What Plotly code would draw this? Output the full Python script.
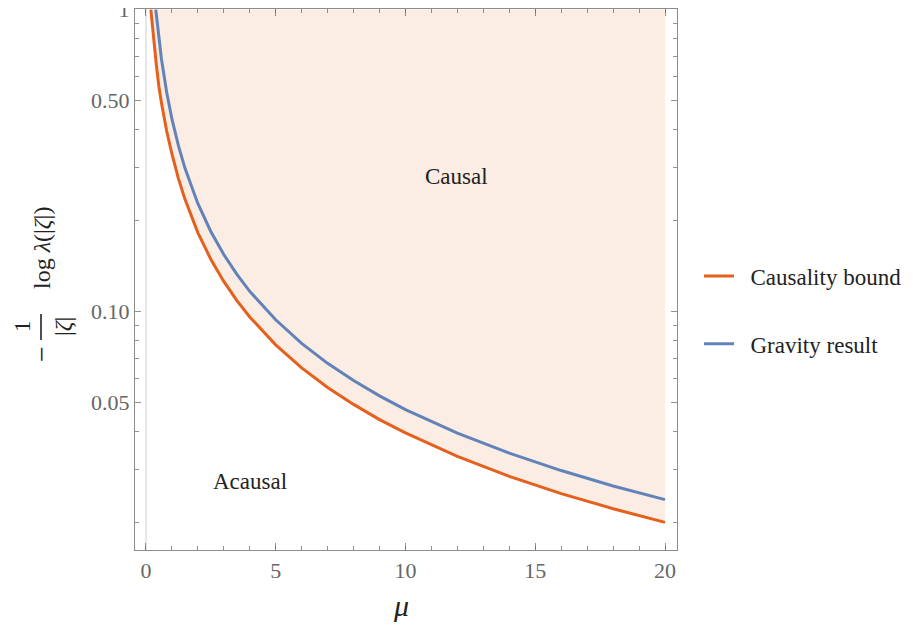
import plotly.graph_objects as go
import math

# Causality bound (orange)
mu_causal = [0.19, 0.25, 0.3, 0.4, 0.5, 0.6, 0.8, 1.0, 1.25, 1.5, 2, 2.5, 3, 3.5, 4,
             5, 6, 7, 8, 9, 10, 12, 14, 16, 18, 20]
val_causal = [1.0, 0.871, 0.786, 0.658, 0.556, 0.490, 0.396, 0.333, 0.276, 0.236, 0.1825,
              0.1489, 0.1257, 0.1088, 0.0959, 0.0775, 0.0650, 0.0560, 0.0492, 0.0438,
              0.0396, 0.0331, 0.0284, 0.0249, 0.0222, 0.0200]

# Gravity result (blue)
mu_grav = [0.38, 0.45, 0.5, 0.6, 0.8, 1.0, 1.25, 1.5, 2, 2.5, 3, 3.5, 4,
           5, 6, 7, 8, 9, 10, 12, 14, 16, 18, 20]
val_grav = [1.0, 0.872, 0.799, 0.685, 0.532, 0.435, 0.355, 0.299, 0.228, 0.184, 0.1543,
            0.1329, 0.1166, 0.0938, 0.0784, 0.0673, 0.0590, 0.0525, 0.0473, 0.0395,
            0.0339, 0.0297, 0.0264, 0.0238]

y_tickvals = [0.05, 0.1, 0.5, 1]
y_ticktext = ["0.05", "0.10", "0.50", "1"]
y_minor = [0.02, 0.03, 0.04, 0.06, 0.07, 0.08, 0.09, 0.2, 0.3, 0.4, 0.6, 0.7, 0.8, 0.9]
x_tickvals = [0, 5, 10, 15, 20]
series_names = ["Causality bound", "Gravity result"]

ORANGE = "#E4601C"
BLUE = "#6283BA"
FILL = "rgb(251,236,228)"
FONT = "Liberation Serif"

# page has an 8px body margin; work in screen pixels and convert
OFF = 8
W, H = 913 - 2 * OFF, 630 - 2 * OFF
L, R, T, B = 135, 677, 9, 550   # plot area in screen pixels


def px(xs):
    return (xs - L) / (R - L)


def py(ys):
    return (B - ys) / (B - T)


fig = go.Figure()

# shaded causal region (above the causality bound up to top of axis)
fig.add_trace(go.Scatter(
    x=mu_causal + [mu_causal[-1], mu_causal[0]],
    y=val_causal + [y_tickvals[-1], y_tickvals[-1]],
    fill="toself", fillcolor=FILL, line=dict(width=0), mode="lines",
    showlegend=False, hoverinfo="skip"))

fig.add_trace(go.Scatter(x=mu_causal, y=val_causal, mode="lines",
                         line=dict(color=ORANGE, width=3),
                         name="\u2002" + series_names[0], legendgroup="a"))
fig.add_trace(go.Scatter(x=mu_grav, y=val_grav, mode="lines",
                         line=dict(color=BLUE, width=3),
                         name="\u2002" + series_names[1], legendgroup="b"))

axis_common = dict(
    showline=True, linecolor="#8c8c8c", linewidth=1.3, mirror="allticks",
    ticks="inside", tickcolor="rgba(110,110,110,0.75)", tickwidth=1.2,
    showgrid=False, automargin=False, ticklabeloverflow="allow",
    tickfont=dict(family=FONT, size=22, color="#666666"),
)

fig.update_layout(
    width=W, height=H,
    margin=dict(l=L - OFF, r=W - (R - OFF), t=T - OFF, b=H - (B - OFF), pad=0,
                autoexpand=False),
    paper_bgcolor="white", plot_bgcolor="white",
    xaxis=dict(range=[-0.42, 20.46], tickvals=x_tickvals, ticklen=7,
               zeroline=True, zerolinecolor="#e6e6e6", zerolinewidth=1.5,
               minor=dict(ticks="inside", ticklen=4, dtick=1, tick0=0,
                          tickcolor="rgba(110,110,110,0.75)", tickwidth=1.2),
               **axis_common),
    yaxis=dict(type="log", range=[math.log10(0.0162), 0.002],
               tickvals=y_tickvals, ticktext=y_ticktext, ticklen=6,
               minor=dict(ticks="inside", ticklen=4, tickvals=y_minor,
                          tickcolor="rgba(110,110,110,0.75)", tickwidth=1.2),
               **axis_common),
    legend=dict(xref="container", yref="container",
                x=(699 - OFF) / W, y=1 - (310 - OFF) / H,
                xanchor="left", yanchor="middle",
                font=dict(family=FONT, size=23, color="#222222"),
                tracegroupgap=35, traceorder="grouped",
                bgcolor="rgba(0,0,0,0)"),
    showlegend=True,
)

ann = []


def add(x, y, text, size, angle=0, ref="paper"):
    ann.append(dict(x=x, y=y, xref=ref if ref == "paper" else "x",
                    yref=ref if ref == "paper" else "y", text=text,
                    textangle=angle, showarrow=False,
                    xanchor="center", yanchor="middle",
                    font=dict(family=FONT, size=size, color="#222")))


# region labels
add(11.96, math.log10(0.28), "Causal", 23, ref="data")
add(4.0, math.log10(0.0274), "Acausal", 23, ref="data")
# x title
add(px(401), py(605), "<i>μ</i>", 30)
# y title pieces (rotated)
add(px(41), py(354), "−", 28, -90)
add(px(22), py(326), "1", 23, -90)
add(px(63), py(327), "|<i>ζ</i>|", 24, -90)
add(px(42), py(248), "log <i>λ</i>(|<i>ζ</i>|)", 24, -90)
fig.update_layout(annotations=ann)

# fraction bar
fig.add_shape(type="line", xref="paper", yref="paper",
              x0=px(41), x1=px(41), y0=py(314), y1=py(340),
              line=dict(color="#222", width=1.6))

fig.write_html("out.html")
